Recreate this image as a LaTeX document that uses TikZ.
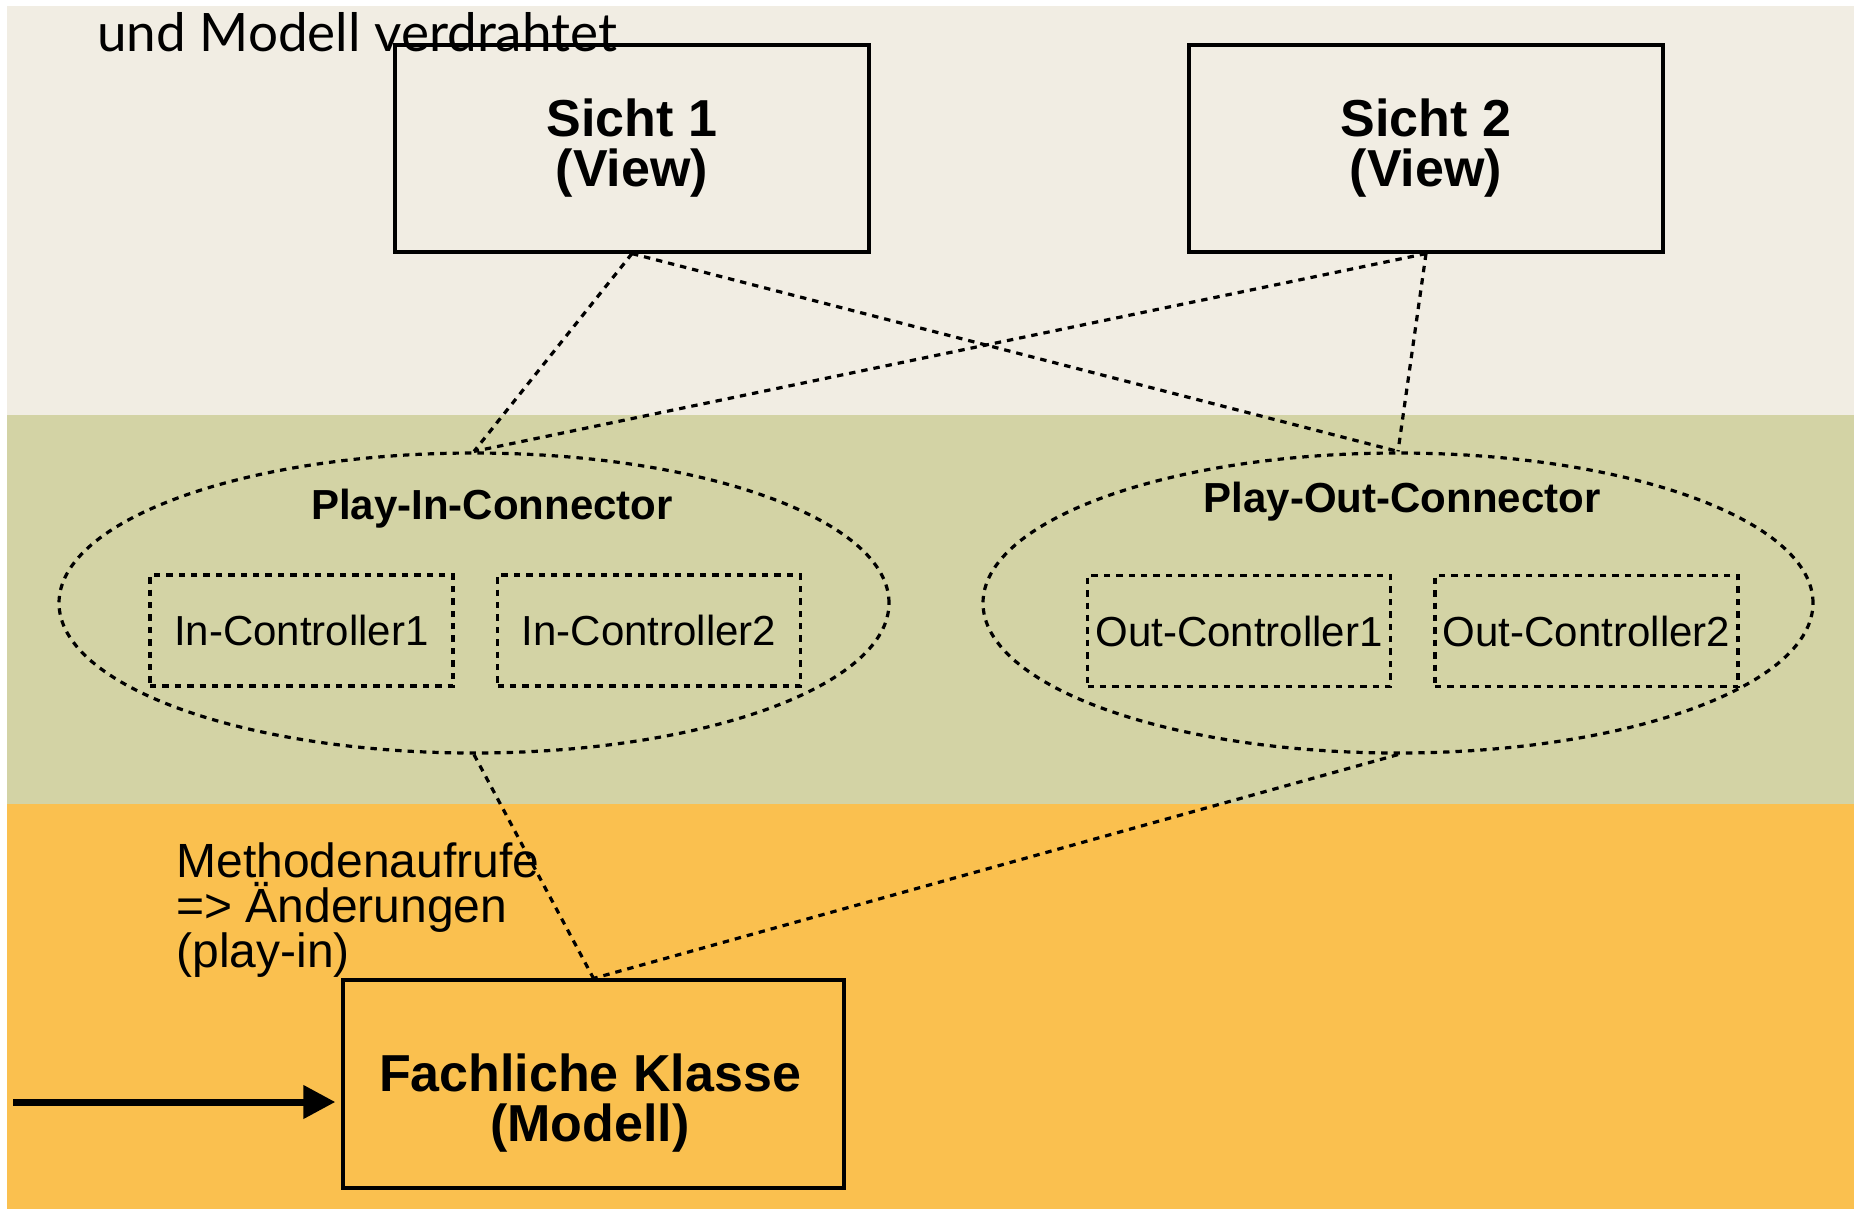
\documentclass[tikz,border=0pt]{standalone}
\usepackage{fontspec}
\setmainfont{Liberation Sans}
\newfontfamily\latofont{Lato}
\usetikzlibrary{shapes.geometric,arrows.meta}

\definecolor{viewband}{HTML}{F1EDE3}
\definecolor{ctrlband}{HTML}{D3D3A5}
\definecolor{modelband}{HTML}{FAC04F}

\tikzset{
  solidbox/.style={draw, line width=1.6pt, rectangle, inner sep=0pt},
  dotline/.style={line width=1.6pt, dash pattern=on 3.2pt off 3pt},
  ctrlbox/.style={dotline, draw, rectangle, inner sep=0pt,
    minimum width=151.5pt, minimum height=55.5pt,
    font=\fontsize{21}{23}\selectfont},
  connector/.style={dotline, draw, ellipse, inner sep=0pt,
    minimum width=415pt, minimum height=150pt},
  boldlabel/.style={align=center, inner sep=0pt,
    font=\bfseries\fontsize{26}{25}\selectfont},
  connlabel/.style={inner sep=0pt, font=\bfseries\fontsize{21}{23}\selectfont},
  link/.style={dotline},
  bigarrow/.style={line width=3.5pt, -{Triangle[length=16pt,width=16pt]}}
}

\begin{document}
\begin{tikzpicture}[x=0.5pt, y=-0.5pt]
  \useasboundingbox (0,0) rectangle (1854,1211);

  % layer bands
  \fill[viewband]  (7,6)   rectangle (1854,415);
  \fill[ctrlband]  (7,415) rectangle (1854,804);
  \fill[modelband] (7,804) rectangle (1854,1209);

  \node[anchor=base west, inner sep=0pt, font=\latofont\fontsize{26.5}{28}\selectfont]
    (caption) at (97,51) {und Modell verdrahtet};

  % views
  \node[solidbox, boldlabel, minimum width=237pt, minimum height=103.5pt]
    (s1) at (632,148.5) {Sicht 1\\(View)};
  \node[solidbox, boldlabel, minimum width=237pt, minimum height=103.5pt]
    (s2) at (1426,148.5) {Sicht 2\\(View)};

  % connectors with their controllers
  \node[connector] (pin)  at (474,603) {};
  \node[connector] (pout) at (1398,603) {};
  \node[connlabel] (pinlabel)  at (492,509) {Play-In-Connector};
  \node[connlabel] (poutlabel) at (1402,502) {Play-Out-Connector};

  \node[ctrlbox] (ic1) at (301.5,630.5) {In-Controller1};
  \node[ctrlbox] (ic2) at (649,630.5)   {In-Controller2};
  \node[ctrlbox] (oc1) at (1239,631)    {Out-Controller1};
  \node[ctrlbox] (oc2) at (1586.5,631)  {Out-Controller2};

  % model
  \node[solidbox, minimum width=250.5pt, minimum height=104pt]
    (model) at (593.5,1084) {};
  \node[boldlabel] (modeltext) at (590,1103) {Fachliche Klasse\\(Modell)};

  \node[anchor=base west, align=left, inner sep=0pt,
        font=\fontsize{24}{22.5}\selectfont]
    (calls) at (176,967) {Methodenaufrufe\\=> Änderungen\\(play-in)};

  % wiring
  \draw[link] (s1.south) -- (pin.north);
  \draw[link] (s1.south) -- (pout.north);
  \draw[link] (s2.south) -- (pin.north);
  \draw[link] (s2.south) -- (pout.north);
  \draw[link] (pin.south) -- (model.north);
  \draw[link] (pout.south) -- (model.north);

  \coordinate (entry) at (13,1102);
  \draw[bigarrow, shorten >=3pt] (entry) -- (entry -| model.west);
\end{tikzpicture}
\end{document}
